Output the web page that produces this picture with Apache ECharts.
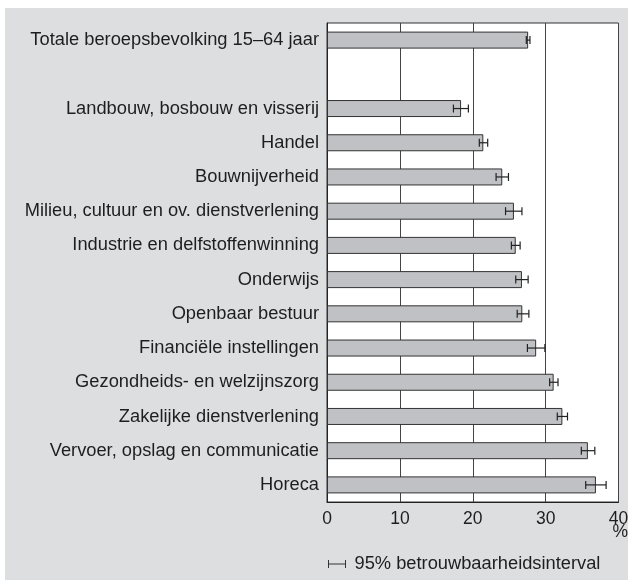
<!DOCTYPE html>
<html>
<head>
<meta charset="utf-8">
<script src="https://cdn.jsdelivr.net/npm/echarts@6/dist/echarts.min.js"></script>
<style>
html,body{margin:0;padding:0;background:#fff;}
#bg{position:absolute;left:5px;top:8px;width:623px;height:572px;background:#dddee0;}
#chart{position:absolute;left:0;top:0;width:628px;height:580px;}
</style>
</head>
<body>
<div id="bg"></div>
<div id="chart"></div>
<script>
var categories = [
  'Totale beroepsbevolking 15\u201364 jaar',
  '',
  'Landbouw, bosbouw en visserij',
  'Handel',
  'Bouwnijverheid',
  'Milieu, cultuur en ov. dienstverlening',
  'Industrie en delfstoffenwinning',
  'Onderwijs',
  'Openbaar bestuur',
  'Financi\u00eble instellingen',
  'Gezondheids- en welzijnszorg',
  'Zakelijke dienstverlening',
  'Vervoer, opslag en communicatie',
  'Horeca'
];
var values = [27.6, null, 18.4, 21.45, 24.05, 25.65, 25.9, 26.75, 26.8, 28.7, 31.1, 32.3, 35.8, 36.9];
var lower  = [27.35, null, 17.35, 20.9, 23.2, 24.5, 25.3, 25.9, 26.1, 27.5, 30.55, 31.6, 34.9, 35.5];
var upper  = [27.85, null, 19.4, 22.05, 24.9, 26.75, 26.5, 27.6, 27.7, 29.9, 31.7, 33.0, 36.75, 38.3];
var xTicks = [0, 10, 20, 30, 40];
var unitLabel = '%';
var legendText = '95% betrouwbaarheidsinterval';

var barData = values.map(function(v){ return v == null ? '-' : v; });
var errData = [];
for (var i = 0; i < categories.length; i++) {
  if (lower[i] != null) errData.push([lower[i], upper[i], i]);
}

var chart = echarts.init(document.getElementById('chart'), null, {renderer: 'canvas'});
var font = '"Liberation Sans", Arial, Helvetica, sans-serif';
var txt = '#1e1e1e';
chart.setOption({
  backgroundColor: 'transparent',
  animation: false,
  textStyle: {fontFamily: font},
  grid: {
    left: 327, right: 9.5, top: 23, bottom: 78,
    show: true, backgroundColor: '#ffffff', borderColor: '#333', borderWidth: 1,
    containLabel: false, outerBoundsMode: 'none'
  },
  legend: {
    left: 326, top: 555, padding: 0,
    itemWidth: 17, itemHeight: 8, itemGap: 10,
    textStyle: {fontFamily: font, fontSize: 18.3, color: txt, padding: [0,0,0,4]},
    data: [{name: legendText, icon: 'path://M0,0 L0,8 M0,4 L17,4 M17,0 L17,8', itemStyle: {color: 'none', borderColor: '#333', borderWidth: 1}}]
  },
  xAxis: {
    type: 'value', min: xTicks[0], max: xTicks[xTicks.length-1], interval: 10,
    axisLine: {show: true, lineStyle: {color: '#222', width: 1}},
    axisTick: {show: false},
    splitLine: {show: true, lineStyle: {color: '#444', width: 1}},
    axisLabel: {fontSize: 17.5, color: txt, margin: 8, fontFamily: font,
      formatter: function(v){ return String(v); }},
    name: unitLabel, nameLocation: 'end', nameGap: -6, nameMoveOverlap: false,
    nameTextStyle: {fontSize: 17.5, color: txt, fontFamily: font, align: 'left', verticalAlign: 'top', padding: [21, 0, 0, 0]}
  },
  yAxis: {
    type: 'category', data: categories, inverse: true,
    axisLine: {show: true, lineStyle: {color: '#222'}},
    axisTick: {show: false},
    axisLabel: {fontSize: 18.3, color: txt, margin: 8, fontFamily: font}
  },
  series: [
    {
      type: 'bar', data: barData, barWidth: 17,
      itemStyle: {color: '#c0c1c4', borderColor: '#333', borderWidth: 1},
      z: 3
    },
    {
      type: 'custom', name: legendText, data: errData,
      encode: {x: [0, 1], y: 2},
      renderItem: function(params, api){
        var p1 = api.coord([api.value(0), api.value(2)]);
        var p2 = api.coord([api.value(1), api.value(2)]);
        var h = 4;
        var st = {stroke: '#222', lineWidth: 1.2};
        return {
          type: 'group',
          children: [
            {type: 'line', shape: {x1: p1[0], y1: p1[1], x2: p2[0], y2: p2[1]}, style: st},
            {type: 'line', shape: {x1: p1[0], y1: p1[1]-h, x2: p1[0], y2: p1[1]+h}, style: st},
            {type: 'line', shape: {x1: p2[0], y1: p2[1]-h, x2: p2[0], y2: p2[1]+h}, style: st}
          ]
        };
      },
      z: 5
    }
  ]
});
</script>
</body>
</html>
